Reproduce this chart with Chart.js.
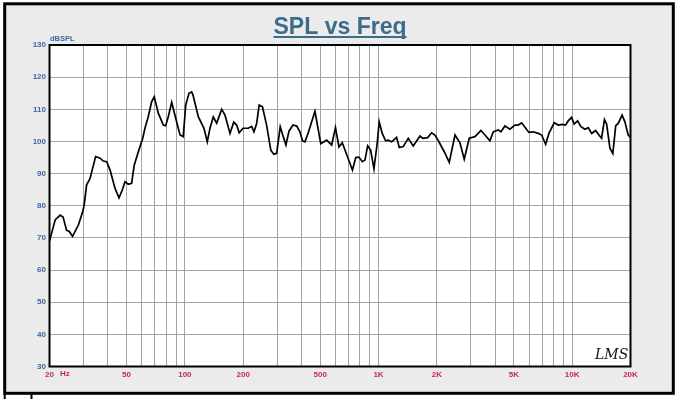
<!DOCTYPE html>
<html>
<head>
<meta charset="utf-8">
<title>SPL vs Freq</title>
<script src="https://cdn.jsdelivr.net/npm/chart.js@4.4.1/dist/chart.umd.min.js"></script>
<style>
    html, body { margin: 0; padding: 0; background: #fff; }
    #splChart { display: block; }
</style>
</head>
<body>
<canvas id="splChart" width="680" height="399"></canvas>
<script>
// --- Chart data ---

// Frequencies in Hz
const freqs = [
    20, 21.4, 22.7, 23.5, 24.5, 25.3, 26.3, 28.2, 29.7, 30.2,
    31.1, 32.4, 34.6, 36.5, 37.9, 39.5, 41.1, 43.6, 45.7, 47.5,
    49.1, 51, 53.1, 54.8, 57.5, 60.6, 62.2, 64.7, 67.4, 69.5,
    72.9, 77.4, 79.6, 82.1, 85.5, 89.7, 94.4, 98.1, 101, 105,
    108.4, 110.1, 117.3, 125.5, 130.5, 134.8, 140.2, 146, 154.9, 161.1,
    171, 178.8, 185.1, 190.7, 199.5, 212.5, 221.3, 227.4, 234.8, 241.9,
    251.6, 264.4, 277.8, 287.8, 297.8, 310.8, 322.1, 332.7, 344.8, 361.6,
    377.8, 392.9, 404.8, 416.9, 433.6, 469.6, 503.2, 539.6, 572.8, 599.3,
    624.6, 649.6, 676.4, 703.4, 733.4, 762.8, 792.3, 826, 851, 878.8,
    910.5, 947, 984.8, 1008, 1045, 1088, 1122, 1169, 1240, 1279,
    1341, 1424, 1511, 1636, 1689, 1793, 1880, 1955, 2050, 2184,
    2318, 2482, 2633, 2770, 2940, 3146, 3378, 3544, 3760, 3912,
    4150, 4285, 4494, 4770, 5062, 5264, 5482, 5702, 5979, 6293,
    6678, 6955, 7292, 7583, 8076, 8467, 8880, 9247, 9537, 9930,
    10242, 10665, 11092, 11634, 12098, 12600, 13212, 13738, 14186, 14668,
    15056, 15660, 16208, 16776, 17282, 18098, 18712, 19458, 20000
];

// Sound pressure level in dB SPL
const splValues = [
    69, 75.6, 77.1, 76.5, 72.4, 72, 70.5, 74, 78.2, 80.2,
    86.5, 88.5, 95.3, 94.8, 93.9, 93.7, 91.1, 85.4, 82.5, 84.9,
    87.5, 86.7, 87, 92.7, 96.8, 101, 104.1, 107.7, 112.4, 113.9,
    108.8, 105.1, 104.9, 107.7, 112.2, 107.2, 102, 101.5, 111.3, 115,
    115.4, 114.5, 107.7, 104.1, 99.9, 104.1, 107.6, 105.7, 110, 108.2,
    102.5, 106, 105.1, 102.7, 104.1, 104.1, 104.7, 103, 105.6, 111.3,
    110.8, 105, 97.3, 96, 96.3, 104.6, 101.5, 98.9, 103.2, 105.1,
    104.8, 103, 100.2, 99.9, 102.7, 109.4, 99.3, 100.4, 98.9, 104.3,
    98.3, 99.6, 96.8, 94, 91.1, 95, 95.1, 93.7, 94.2, 98.6,
    97.3, 91.5, 99.6, 106.1, 102.5, 100.2, 100.4, 99.9, 101.3, 98.1,
    98.4, 101, 98.6, 101.7, 101, 101.2, 102.7, 102, 99.9, 96.8,
    93.5, 102, 99.6, 94.5, 101, 101.5, 103.4, 102, 100.2, 103,
    103.6, 103, 104.8, 103.8, 105.1, 105.1, 105.8, 104.4, 102.8, 103,
    102.5, 102, 99.1, 102.5, 105.8, 105.1, 105.3, 105.1, 106.4, 107.5,
    105.4, 106.4, 104.6, 103.8, 104.3, 102.5, 103.4, 102, 101, 106.8,
    105.4, 97.9, 96.2, 104.9, 105.6, 108.2, 106.1, 102, 101.3
];

// Vertical grid lines (Hz)
const gridFreqs = [
    20, 30, 40, 50, 60, 70, 80, 90, 100,
    200, 300, 400, 500, 600, 700, 800, 900, 1000,
    2000, 3000, 4000, 5000, 6000, 7000, 8000, 9000, 10000,
    20000
];

// Labelled frequencies and their texts
const labelFreqs = [20, 50, 100, 200, 500, 1000, 2000, 5000, 10000, 20000];
const freqLabels = ['20', '50', '100', '200', '500', '1K', '2K', '5K', '10K', '20K'];

// Y axis range
const dbMin = 30;
const dbMax = 130;
const dbStep = 10;

const FONT = 'Arial, "Liberation Sans", sans-serif';
const BLUE = '#3b68a3';
const CRIMSON = '#c2285f';

// --- Frame, title and extra labels ---
const framePlugin = {
    id: 'lmsFrame',
    beforeDraw(chart) {
        const ctx = chart.ctx;
        const area = chart.chartArea;
        ctx.save();
        ctx.fillStyle = '#ffffff';
        ctx.fillRect(0, 0, chart.width, chart.height);
        // grey panel with thick black frame
        ctx.fillStyle = '#ebebeb';
        ctx.fillRect(4.7, 3.8, 668.6, 389.5);
        ctx.strokeStyle = '#000';
        ctx.lineWidth = 3;
        ctx.strokeRect(4.7, 3.8, 668.6, 389.5);
        // bits of the next cell under the frame
        ctx.lineWidth = 2;
        ctx.beginPath();
        ctx.moveTo(4.7, 394); ctx.lineTo(4.7, 399);
        ctx.moveTo(31.5, 394); ctx.lineTo(31.5, 399);
        ctx.stroke();
        // white plot area
        ctx.fillStyle = '#ffffff';
        ctx.fillRect(area.left, area.top, area.right - area.left, area.bottom - area.top);
        ctx.restore();
    },
    afterDraw(chart) {
        const ctx = chart.ctx;
        const area = chart.chartArea;
        ctx.save();
        // plot border
        ctx.strokeStyle = '#000';
        ctx.lineWidth = 2;
        ctx.strokeRect(area.left, area.top, area.right - area.left, area.bottom - area.top);

        // title, underlined
        ctx.fillStyle = '#3d6b8b';
        ctx.font = 'bold 23px ' + FONT;
        ctx.textAlign = 'center';
        ctx.textBaseline = 'alphabetic';
        const title = 'SPL vs Freq';
        ctx.fillText(title, 340, 34);
        const w = ctx.measureText(title).width;
        ctx.fillRect(340 - w / 2, 36, w, 2);

        // y unit
        ctx.fillStyle = BLUE;
        ctx.font = 'bold 7.5px ' + FONT;
        ctx.textAlign = 'left';
        ctx.fillText('dBSPL', 50, 41);

        // x unit next to the 20 label
        ctx.fillStyle = CRIMSON;
        ctx.font = 'bold 8px ' + FONT;
        ctx.textBaseline = 'middle';
        ctx.fillText('Hz', 60, 374);

        // LMS signature
        ctx.fillStyle = '#111';
        ctx.font = 'italic 14px "DejaVu Serif", serif';
        ctx.textBaseline = 'alphabetic';
        ctx.fillText('LMS', 595, 359);
        ctx.restore();
    }
};

document.addEventListener('DOMContentLoaded', function() {
    const ctx = document.getElementById('splChart');
    if (!ctx) {
        console.error("Chart canvas not found.");
        return;
    }

    const points = freqs.map((f, i) => ({ x: f, y: splValues[i] }));

    new Chart(ctx.getContext('2d'), {
        type: 'line',
        data: {
            datasets: [{
                label: 'SPL',
                data: points,
                borderColor: '#000000',
                borderWidth: 1.7,
                pointRadius: 0,
                fill: false,
                tension: 0
            }]
        },
        options: {
            responsive: false,
            animation: false,
            events: [],
            layout: {
                padding: { left: 0, top: 45, right: 49.5, bottom: 0 }
            },
            scales: {
                x: {
                    type: 'logarithmic',
                    min: 20,
                    max: 20000,
                    afterBuildTicks: (scale) => {
                        scale.ticks = gridFreqs.map(v => ({ value: v }));
                    },
                    afterFit: (scale) => { scale.height = 32.5; },
                    border: { display: false },
                    grid: {
                        color: '#a4a4a4',
                        lineWidth: 1,
                        drawTicks: false
                    },
                    ticks: {
                        autoSkip: false,
                        maxRotation: 0,
                        padding: 3,
                        color: CRIMSON,
                        font: { family: FONT, size: 8, weight: 'bold' },
                        callback: function(value) {
                            const i = labelFreqs.indexOf(value);
                            return i >= 0 ? freqLabels[i] : '';
                        }
                    }
                },
                y: {
                    min: dbMin,
                    max: dbMax,
                    afterFit: (scale) => { scale.width = 49.5; },
                    border: { display: false },
                    grid: {
                        color: '#a4a4a4',
                        lineWidth: 1,
                        drawTicks: false
                    },
                    ticks: {
                        stepSize: dbStep,
                        padding: 3.5,
                        color: BLUE,
                        font: { family: FONT, size: 8, weight: 'bold' }
                    }
                }
            },
            plugins: {
                legend: { display: false },
                tooltip: { enabled: false },
                title: { display: false }
            }
        },
        plugins: [framePlugin]
    });
});
</script>
</body>
</html>
